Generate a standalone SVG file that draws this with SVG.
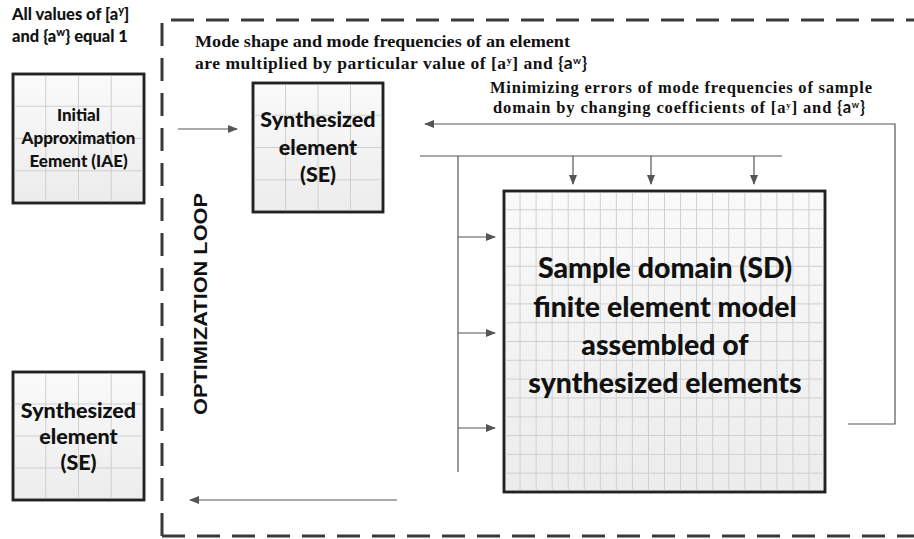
<svg xmlns="http://www.w3.org/2000/svg" width="914" height="539" viewBox="0 0 914 539">
<style>
.box{fill:#f3f3f3;stroke:#222;stroke-width:2.5}
.grid{stroke:#cfcfcf;stroke-width:1;fill:none}
.lbl{font-family:Lato,"Liberation Sans",sans-serif;font-weight:900;fill:#111;text-anchor:middle}
.tnr{font-family:"Liberation Serif",serif;font-weight:bold;fill:#111}
.cal{font-family:Lato,"Liberation Sans",sans-serif;font-weight:900;fill:#111}
.ari{font-family:"Liberation Sans",Arial,sans-serif;font-weight:bold;fill:#111}
.sans{font-family:Lato,"Liberation Sans",sans-serif}
.con{stroke:#555;stroke-width:1.2;fill:none}
</style>
<defs>
<marker id="ah" markerWidth="10" markerHeight="8" refX="9" refY="4" orient="auto" markerUnits="userSpaceOnUse">
<path d="M0,0 L10,4 L0,8 Z" fill="#555"/>
</marker>
<linearGradient id="cellg" x1="0" y1="0" x2="0" y2="1">
<stop offset="0" stop-color="#fafafa"/><stop offset="1" stop-color="#ececec"/>
</linearGradient>
</defs>
<rect width="914" height="539" fill="#fff"/>

<g id="loop-frame">
<path d="M162,536 L162,20 L920,20" fill="none" stroke="#3a3a3a" stroke-width="3" stroke-dasharray="23 12"/>
<path d="M162,536 L920,536" fill="none" stroke="#3a3a3a" stroke-width="3" stroke-dasharray="23 12"/>
<text class="ari" transform="translate(207,304) rotate(-90)" text-anchor="middle" font-size="18" textLength="222" lengthAdjust="spacingAndGlyphs">OPTIMIZATION LOOP</text>
</g>

<g id="note-top-left">
<text class="cal" x="12" y="20" font-size="16.5">All values of [a<tspan font-size="11" dy="-6">y</tspan><tspan dy="6">]</tspan></text>
<text class="cal" x="12" y="42" font-size="16.5">and {a<tspan font-size="11" dy="-6">w</tspan><tspan dy="6">} equal 1</tspan></text>
</g>

<g id="note-mode">
<text class="tnr" x="195" y="47" font-size="17.5" textLength="375" lengthAdjust="spacingAndGlyphs">Mode shape and mode frequencies of an element</text>
<text class="tnr" x="195" y="69" font-size="17.5" textLength="392" lengthAdjust="spacing">are multiplied by particular value of [a<tspan font-size="10" dy="-5">y</tspan><tspan dy="5">]  and  </tspan><tspan class="sans">{a</tspan><tspan class="sans" font-size="10" dy="-5">w</tspan><tspan class="sans" dy="5">}</tspan></text>
</g>

<g id="note-min">
<text class="tnr" x="490" y="93" font-size="16.5" textLength="382" lengthAdjust="spacing">Minimizing errors of mode frequencies of sample</text>
<text class="tnr" x="493" y="113" font-size="16.5" textLength="372" lengthAdjust="spacing">domain by changing coefficients of [a<tspan font-size="9" dy="-5">y</tspan><tspan dy="5">] and </tspan><tspan class="sans">{a</tspan><tspan class="sans" font-size="9" dy="-5">w</tspan><tspan class="sans" dy="5">}</tspan></text>
</g>

<g id="iae">
<rect class="box" x="13" y="74" width="131" height="129" style="fill:url(#cellg)"/>
<path class="grid" d="M45.75,75V202M78.5,75V202M111.25,75V202M14,106.25H143M14,138.5H143M14,170.75H143"/>
<rect x="13" y="74" width="131" height="129" fill="none" stroke="#222" stroke-width="2.5"/>
<text class="lbl" x="78.5" y="121" font-size="17">Initial</text>
<text class="lbl" x="78.5" y="144" font-size="17">Approximation</text>
<text class="lbl" x="78.5" y="167" font-size="17">Eement (IAE)</text>
</g>

<g id="se-top">
<rect class="box" x="253" y="83" width="130" height="129" style="fill:url(#cellg)"/>
<path class="grid" d="M285.5,84V211M318,84V211M350.5,84V211M254,115.25H382M254,147.5H382M254,179.75H382"/>
<rect x="253" y="83" width="130" height="129" fill="none" stroke="#222" stroke-width="2.5"/>
<text class="lbl" x="318" y="127" font-size="21.5">Synthesized</text>
<text class="lbl" x="318" y="155" font-size="21.5">element</text>
<text class="lbl" x="318" y="182" font-size="21.5">(SE)</text>
</g>

<g id="se-bottom">
<rect class="box" x="13" y="372" width="131" height="128" style="fill:url(#cellg)"/>
<path class="grid" d="M45.75,373V499M78.5,373V499M111.25,373V499M14,404H143M14,436H143M14,468H143"/>
<rect x="13" y="372" width="131" height="128" fill="none" stroke="#222" stroke-width="2.5"/>
<text class="lbl" x="78.5" y="418" font-size="21.5">Synthesized</text>
<text class="lbl" x="78.5" y="444" font-size="21.5">element</text>
<text class="lbl" x="78.5" y="470" font-size="21.5">(SE)</text>
</g>

<g id="sd">
<rect class="box" x="504" y="191" width="321" height="301" style="fill:url(#cellg)"/>
<path class="grid" d="M520.05,192V491M536.1,192V491M552.15,192V491M568.2,192V491M584.25,192V491M600.3,192V491M616.35,192V491M632.4,192V491M648.45,192V491M664.5,192V491M680.55,192V491M696.6,192V491M712.65,192V491M728.7,192V491M744.75,192V491M760.8,192V491M776.85,192V491M792.9,192V491M808.95,192V491
M505,209.8H824M505,228.6H824M505,247.4H824M505,266.3H824M505,285.1H824M505,303.9H824M505,322.7H824M505,341.5H824M505,360.3H824M505,379.1H824M505,397.9H824M505,416.8H824M505,435.6H824M505,454.4H824M505,473.2H824"/>
<rect x="504" y="191" width="321" height="301" fill="none" stroke="#222" stroke-width="2.5"/>
<text class="lbl" x="665" y="278" font-size="28.5">Sample domain (SD)</text>
<text class="lbl" x="665" y="317" font-size="28.5">finite element model</text>
<text class="lbl" x="665" y="355" font-size="28.5">assembled of</text>
<text class="lbl" x="665" y="393" font-size="28.5">synthesized elements</text>
</g>

<g id="connectors">
<line class="con" x1="178" y1="129" x2="237" y2="129" marker-end="url(#ah)"/>
<line class="con" x1="420" y1="156" x2="782" y2="156"/>
<line class="con" x1="573" y1="156" x2="573" y2="184" marker-end="url(#ah)"/>
<line class="con" x1="651" y1="156" x2="651" y2="184" marker-end="url(#ah)"/>
<line class="con" x1="754" y1="156" x2="754" y2="184" marker-end="url(#ah)"/>
<line class="con" x1="458" y1="156" x2="458" y2="472"/>
<line class="con" x1="458" y1="237" x2="495" y2="237" marker-end="url(#ah)"/>
<line class="con" x1="458" y1="333" x2="495" y2="333" marker-end="url(#ah)"/>
<line class="con" x1="458" y1="428" x2="495" y2="428" marker-end="url(#ah)"/>
<polyline class="con" points="848,424 895,424 895,124 425,124" marker-end="url(#ah)"/>
<line class="con" x1="397" y1="500" x2="190" y2="500" marker-end="url(#ah)"/>
</g>
</svg>
